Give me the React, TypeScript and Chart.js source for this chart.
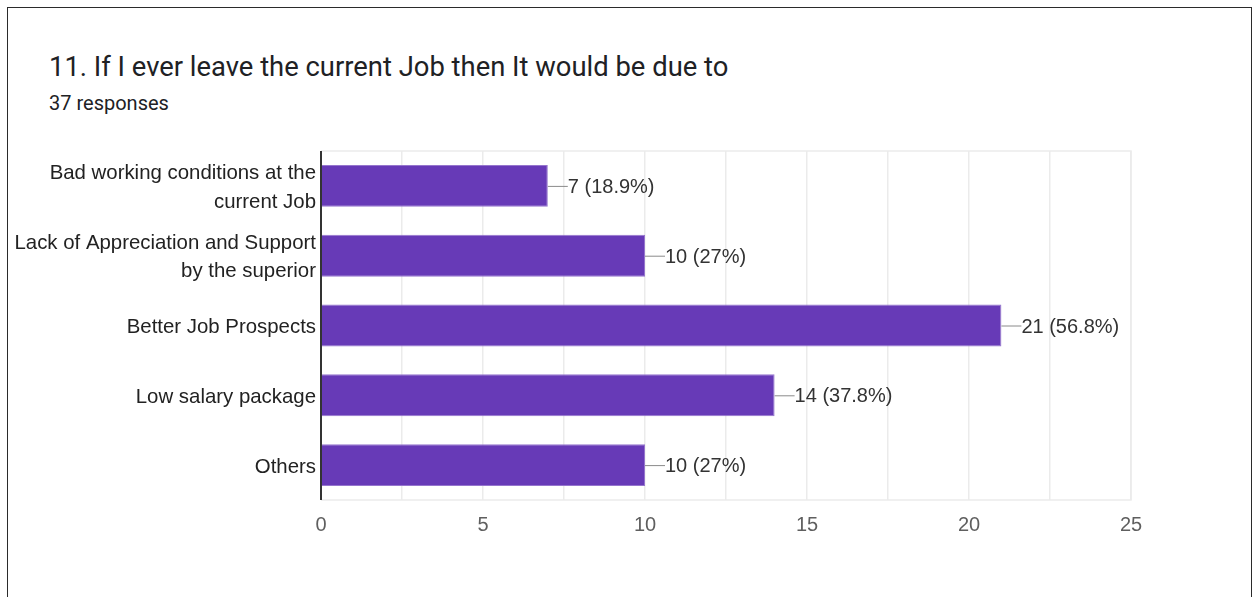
import React, { useEffect, useRef } from "react";
import { Chart, registerables } from "chart.js";

Chart.register(...registerables);

const TITLE = "11. If I ever leave the current Job then It would be due to";
const SUBTITLE = "37 responses";
const categories: string[][] = [
  ["Bad working conditions at the", "current Job"],
  ["Lack of Appreciation and Support", "by the superior"],
  ["Better Job Prospects"],
  ["Low salary package"],
  ["Others"],
];
const counts = [7, 10, 21, 14, 10];
const percentLabels = ["18.9%", "27%", "56.8%", "37.8%", "27%"];
const xMin = 0;
const xMax = 25;
const xStep = 2.5;

const LABEL_FONT = "Arial, 'Liberation Sans', sans-serif";

const frameAndLabels = {
  id: "frameAndLabels",
  beforeDatasetsDraw(chart: any) {
    const { ctx, chartArea } = chart;
    ctx.save();
    ctx.strokeStyle = "#ebebeb";
    ctx.lineWidth = 1.5;
    ctx.beginPath();
    ctx.moveTo(chartArea.left, chartArea.top);
    ctx.lineTo(chartArea.right, chartArea.top);
    ctx.lineTo(chartArea.right, chartArea.bottom);
    ctx.lineTo(chartArea.left, chartArea.bottom);
    ctx.stroke();
    ctx.restore();
  },
  afterDatasetsDraw(chart: any) {
    const { ctx } = chart;
    const meta = chart.getDatasetMeta(0);
    ctx.save();
    meta.data.forEach((bar: any, i: number) => {
      const x = bar.x;
      const y = bar.y;
      ctx.strokeStyle = "#8a8a8a";
      ctx.lineWidth = 1;
      ctx.beginPath();
      ctx.moveTo(x, y + 0.5);
      ctx.lineTo(x + 20, y + 0.5);
      ctx.stroke();
      ctx.fillStyle = "#333333";
      ctx.font = `20px ${LABEL_FONT}`;
      ctx.textBaseline = "middle";
      ctx.textAlign = "left";
      ctx.fillText(`${counts[i]} (${percentLabels[i]})`, x + 20, y + 1.5);
    });
    const area = chart.chartArea;
    ctx.strokeStyle = "#333333";
    ctx.lineWidth = 2;
    ctx.beginPath();
    ctx.moveTo(area.left, area.top);
    ctx.lineTo(area.left, area.bottom);
    ctx.stroke();
    ctx.restore();
  },
};

export default function App() {
  const canvasRef = useRef<HTMLCanvasElement | null>(null);

  useEffect(() => {
    if (!canvasRef.current) return;
    const chart = new Chart(canvasRef.current, {
      type: "bar",
      data: {
        labels: categories,
        datasets: [
          {
            data: counts,
            backgroundColor: "#673ab7",
            borderColor: "#9575cd",
            borderWidth: 1,
            categoryPercentage: 1,
            barPercentage: 0.6,
          },
        ],
      },
      options: {
        indexAxis: "y",
        animation: false,
        responsive: false,
        maintainAspectRatio: false,
        layout: { padding: { top: 151, right: 126, left: 0, bottom: 0 } },
        plugins: {
          legend: { display: false },
          tooltip: { enabled: false },
          title: { display: false },
        },
        scales: {
          x: {
            min: xMin,
            max: xMax,
            ticks: {
              stepSize: xStep,
              autoSkip: false,
              maxRotation: 0,
              padding: 13,
              color: "#5f5f5f",
              font: { family: LABEL_FONT, size: 20 },
              callback: (v: any) => (Number(v) % 5 === 0 ? String(v) : ""),
            },
            grid: { color: "#ebebeb", lineWidth: 1.5, drawTicks: false },
            border: { display: false },
            afterFit: (s: any) => {
              s.height = 97;
            },
          },
          y: {
            ticks: {
              color: "#222222",
              padding: 5,
              labelOffset: 2,
              font: { family: LABEL_FONT, size: 20.4, lineHeight: 1.38 },
            },
            grid: { display: false, drawTicks: false },
            border: { display: false },
            afterFit: (s: any) => {
              s.width = 321;
            },
          },
        },
      },
      plugins: [frameAndLabels],
    });
    return () => chart.destroy();
  }, []);

  return (
    <div
      style={{
        position: "fixed",
        left: 0,
        top: 0,
        width: 1257,
        height: 597,
        background: "#ffffff",
        overflow: "hidden",
      }}
    >
      <div
        style={{
          position: "absolute",
          left: 7,
          top: 7,
          width: 1245,
          height: 640,
          border: "1px solid #2b2b2b",
          boxSizing: "border-box",
        }}
      />
      <div
        style={{
          position: "absolute",
          left: 49,
          top: 50,
          fontFamily: "Roboto, 'Noto Sans', sans-serif",
          fontSize: 27.4,
          lineHeight: "34px",
          color: "#202124",
          whiteSpace: "nowrap",
        }}
      >
        {TITLE}
      </div>
      <div
        style={{
          position: "absolute",
          left: 49,
          top: 91,
          fontFamily: "Roboto, 'Noto Sans', sans-serif",
          fontSize: 20,
          lineHeight: "24px",
          color: "#202124",
          whiteSpace: "nowrap",
        }}
      >
        {SUBTITLE}
      </div>
      <canvas
        ref={canvasRef}
        width={1257}
        height={597}
        style={{ position: "absolute", left: 0, top: 0, width: 1257, height: 597 }}
      />
    </div>
  );
}
